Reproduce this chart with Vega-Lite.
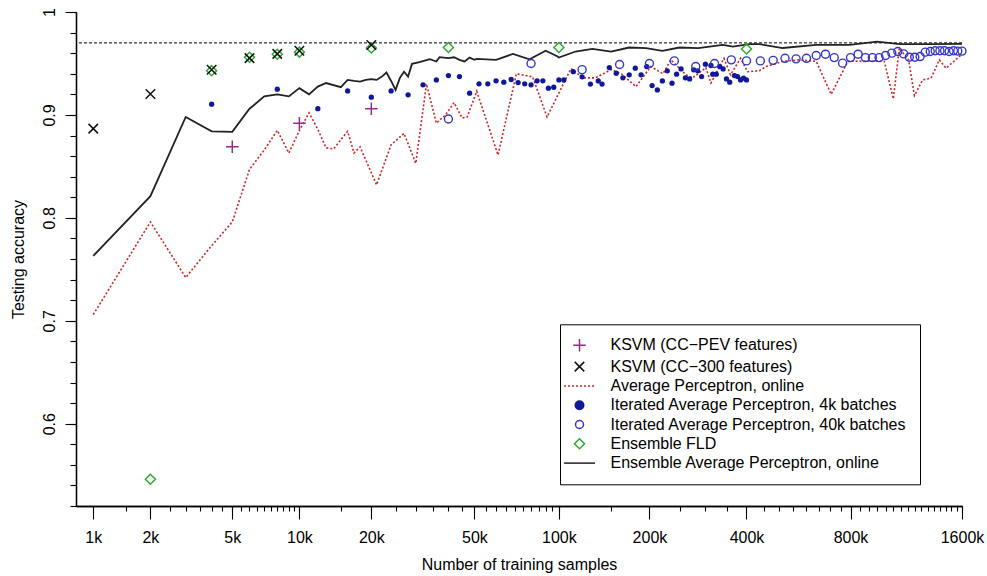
{
  "$schema": "https://vega.github.io/schema/vega-lite/v6.json",
  "width": 886,
  "height": 494,
  "autosize": {"type": "none"},
  "padding": {"left": 76, "top": 12, "right": 25, "bottom": 70},
  "background": "white",
  "config": {"view": {"stroke": null}, "font": "Liberation Sans", "axis": {"labelOverlap": false}},
  "resolve": {"axis": {"x": "independent", "y": "independent"}},
  "datasets": {
    "ksvmpev": [{"k": 5, "acc": 0.869}, {"k": 10, "acc": 0.892}, {"k": 20, "acc": 0.906}],
    "ksvm300": [{"k": 1, "acc": 0.8867}, {"k": 2, "acc": 0.9204}, {"k": 4, "acc": 0.9438}, {"k": 6, "acc": 0.9552}, {"k": 8, "acc": 0.9593}, {"k": 10, "acc": 0.9623}, {"k": 20, "acc": 0.968}],
    "fld": [{"k": 2, "acc": 0.546}, {"k": 4, "acc": 0.943}, {"k": 6, "acc": 0.956}, {"k": 8, "acc": 0.959}, {"k": 10, "acc": 0.961}, {"k": 20, "acc": 0.965}, {"k": 40, "acc": 0.9655}, {"k": 100, "acc": 0.9655}, {"k": 400, "acc": 0.964}],
    "ap": [
      {"k": 1, "acc": 0.706}, {"k": 2, "acc": 0.796}, {"k": 3, "acc": 0.742}, {"k": 4, "acc": 0.773}, {"k": 5, "acc": 0.796},
      {"k": 6, "acc": 0.847}, {"k": 7, "acc": 0.866}, {"k": 8, "acc": 0.885}, {"k": 9, "acc": 0.863}, {"k": 10, "acc": 0.885},
      {"k": 11, "acc": 0.902}, {"k": 12, "acc": 0.886}, {"k": 13, "acc": 0.868}, {"k": 14, "acc": 0.867}, {"k": 15, "acc": 0.876},
      {"k": 16, "acc": 0.884}, {"k": 17, "acc": 0.863}, {"k": 18, "acc": 0.869}, {"k": 21, "acc": 0.832}, {"k": 24, "acc": 0.871},
      {"k": 27, "acc": 0.882}, {"k": 30, "acc": 0.853}, {"k": 33, "acc": 0.93}, {"k": 36, "acc": 0.892}, {"k": 39, "acc": 0.9},
      {"k": 42, "acc": 0.912}, {"k": 45, "acc": 0.897}, {"k": 47, "acc": 0.898}, {"k": 51, "acc": 0.923}, {"k": 61, "acc": 0.861},
      {"k": 71, "acc": 0.94}, {"k": 81, "acc": 0.937}, {"k": 91, "acc": 0.898}, {"k": 110, "acc": 0.945}, {"k": 121, "acc": 0.936},
      {"k": 133, "acc": 0.936}, {"k": 150, "acc": 0.944}, {"k": 162, "acc": 0.94}, {"k": 181, "acc": 0.9275}, {"k": 202, "acc": 0.947},
      {"k": 221, "acc": 0.94}, {"k": 234, "acc": 0.9535}, {"k": 261, "acc": 0.939}, {"k": 274, "acc": 0.936}, {"k": 301, "acc": 0.946},
      {"k": 312, "acc": 0.931}, {"k": 342, "acc": 0.955}, {"k": 358, "acc": 0.939}, {"k": 384, "acc": 0.955}, {"k": 403, "acc": 0.942},
      {"k": 437, "acc": 0.943}, {"k": 458, "acc": 0.947}, {"k": 512, "acc": 0.952}, {"k": 572, "acc": 0.9535}, {"k": 640, "acc": 0.952},
      {"k": 706, "acc": 0.92}, {"k": 786, "acc": 0.952}, {"k": 901, "acc": 0.9525}, {"k": 992, "acc": 0.952}, {"k": 1050, "acc": 0.9156},
      {"k": 1090, "acc": 0.965}, {"k": 1155, "acc": 0.9535}, {"k": 1197, "acc": 0.9188}, {"k": 1260, "acc": 0.934}, {"k": 1326, "acc": 0.9357},
      {"k": 1395, "acc": 0.9535}, {"k": 1453, "acc": 0.9454}, {"k": 1600, "acc": 0.959}
    ],
    "eap": [
      {"k": 1, "acc": 0.763}, {"k": 2, "acc": 0.821}, {"k": 3, "acc": 0.898}, {"k": 4, "acc": 0.884}, {"k": 5, "acc": 0.8835},
      {"k": 6, "acc": 0.906}, {"k": 7, "acc": 0.918}, {"k": 8, "acc": 0.92}, {"k": 9, "acc": 0.918}, {"k": 10, "acc": 0.926},
      {"k": 11, "acc": 0.92}, {"k": 12, "acc": 0.9275}, {"k": 13, "acc": 0.931}, {"k": 15, "acc": 0.927}, {"k": 16, "acc": 0.934},
      {"k": 17, "acc": 0.933}, {"k": 18, "acc": 0.9324}, {"k": 19, "acc": 0.934}, {"k": 20, "acc": 0.9347}, {"k": 21, "acc": 0.934},
      {"k": 22, "acc": 0.937}, {"k": 23, "acc": 0.9412}, {"k": 24, "acc": 0.933}, {"k": 25, "acc": 0.9243}, {"k": 26, "acc": 0.936},
      {"k": 27, "acc": 0.942}, {"k": 28, "acc": 0.9373}, {"k": 29, "acc": 0.9496}, {"k": 31, "acc": 0.9512}, {"k": 34, "acc": 0.9542},
      {"k": 36, "acc": 0.9519}, {"k": 37, "acc": 0.9561}, {"k": 40, "acc": 0.9551}, {"k": 42, "acc": 0.956}, {"k": 44, "acc": 0.9535},
      {"k": 46, "acc": 0.952}, {"k": 48, "acc": 0.9557}, {"k": 50, "acc": 0.9535}, {"k": 51, "acc": 0.9545}, {"k": 60, "acc": 0.9535},
      {"k": 69, "acc": 0.9593}, {"k": 79, "acc": 0.954}, {"k": 90, "acc": 0.9623}, {"k": 99, "acc": 0.9567}, {"k": 100, "acc": 0.9557},
      {"k": 114, "acc": 0.9616}, {"k": 130, "acc": 0.9642}, {"k": 150, "acc": 0.9616}, {"k": 172, "acc": 0.9655}, {"k": 195, "acc": 0.9649},
      {"k": 220, "acc": 0.9623}, {"k": 249, "acc": 0.9655}, {"k": 285, "acc": 0.9649}, {"k": 339, "acc": 0.9681}, {"k": 364, "acc": 0.9664},
      {"k": 408, "acc": 0.9688}, {"k": 437, "acc": 0.9688}, {"k": 512, "acc": 0.965}, {"k": 640, "acc": 0.968}, {"k": 795, "acc": 0.968},
      {"k": 949, "acc": 0.9713}, {"k": 1090, "acc": 0.9688}, {"k": 1340, "acc": 0.9688}, {"k": 1600, "acc": 0.969}
    ],
    "iap4": [
      {"k": 4, "acc": 0.9104}, {"k": 8, "acc": 0.925}, {"k": 12, "acc": 0.9061}, {"k": 16, "acc": 0.9233}, {"k": 20, "acc": 0.9172},
      {"k": 24, "acc": 0.9233}, {"k": 28, "acc": 0.9195}, {"k": 32, "acc": 0.9292}, {"k": 36, "acc": 0.934}, {"k": 40, "acc": 0.9382},
      {"k": 44, "acc": 0.9373}, {"k": 48, "acc": 0.9211}, {"k": 52, "acc": 0.9302}, {"k": 56, "acc": 0.9302}, {"k": 60, "acc": 0.9331},
      {"k": 64, "acc": 0.9318}, {"k": 68, "acc": 0.9344}, {"k": 72, "acc": 0.9314}, {"k": 76, "acc": 0.9302}, {"k": 80, "acc": 0.9292},
      {"k": 84, "acc": 0.9331}, {"k": 88, "acc": 0.9331}, {"k": 92, "acc": 0.926}, {"k": 96, "acc": 0.9269}, {"k": 100, "acc": 0.934},
      {"k": 104, "acc": 0.934}, {"k": 112, "acc": 0.942}, {"k": 120, "acc": 0.937}, {"k": 128, "acc": 0.93}, {"k": 136, "acc": 0.933},
      {"k": 140, "acc": 0.93}, {"k": 148, "acc": 0.946}, {"k": 156, "acc": 0.9405}, {"k": 164, "acc": 0.936}, {"k": 172, "acc": 0.939},
      {"k": 180, "acc": 0.9454}, {"k": 188, "acc": 0.939}, {"k": 196, "acc": 0.947}, {"k": 204, "acc": 0.9285}, {"k": 212, "acc": 0.9243},
      {"k": 220, "acc": 0.933}, {"k": 228, "acc": 0.9428}, {"k": 236, "acc": 0.9308}, {"k": 244, "acc": 0.9396}, {"k": 252, "acc": 0.9447},
      {"k": 260, "acc": 0.936}, {"k": 268, "acc": 0.935}, {"k": 276, "acc": 0.9438}, {"k": 284, "acc": 0.9428}, {"k": 292, "acc": 0.9373},
      {"k": 300, "acc": 0.9493}, {"k": 312, "acc": 0.948}, {"k": 316, "acc": 0.9396}, {"k": 324, "acc": 0.9396}, {"k": 332, "acc": 0.947},
      {"k": 340, "acc": 0.9447}, {"k": 348, "acc": 0.935}, {"k": 356, "acc": 0.9318}, {"k": 368, "acc": 0.9382}, {"k": 376, "acc": 0.9373},
      {"k": 384, "acc": 0.934}, {"k": 392, "acc": 0.9357}, {"k": 400, "acc": 0.934}
    ],
    "iap40": [
      {"k": 40, "acc": 0.896}, {"k": 80, "acc": 0.95}, {"k": 120, "acc": 0.944}, {"k": 160, "acc": 0.949}, {"k": 200, "acc": 0.95},
      {"k": 240, "acc": 0.9525}, {"k": 280, "acc": 0.947}, {"k": 320, "acc": 0.95}, {"k": 360, "acc": 0.9535}, {"k": 400, "acc": 0.9525},
      {"k": 440, "acc": 0.9525}, {"k": 480, "acc": 0.953}, {"k": 520, "acc": 0.955}, {"k": 560, "acc": 0.9545}, {"k": 600, "acc": 0.955},
      {"k": 640, "acc": 0.9577}, {"k": 680, "acc": 0.959}, {"k": 720, "acc": 0.9557}, {"k": 760, "acc": 0.9503}, {"k": 800, "acc": 0.9557},
      {"k": 840, "acc": 0.959}, {"k": 880, "acc": 0.9557}, {"k": 920, "acc": 0.9557}, {"k": 960, "acc": 0.9557}, {"k": 1000, "acc": 0.9577},
      {"k": 1040, "acc": 0.96}, {"k": 1080, "acc": 0.9616}, {"k": 1120, "acc": 0.9593}, {"k": 1160, "acc": 0.9561}, {"k": 1200, "acc": 0.9561},
      {"k": 1240, "acc": 0.9567}, {"k": 1280, "acc": 0.961}, {"k": 1320, "acc": 0.9616}, {"k": 1360, "acc": 0.9623}, {"k": 1400, "acc": 0.9623},
      {"k": 1440, "acc": 0.9623}, {"k": 1480, "acc": 0.9616}, {"k": 1520, "acc": 0.9623}, {"k": 1560, "acc": 0.962}, {"k": 1600, "acc": 0.962}
    ]
  },
  "layer": [
    {
      "data": {"values": [{}]},
      "mark": {"type": "rule", "color": "black", "strokeDash": [3, 2], "strokeWidth": 1},
      "encoding": {"y": {"datum": 0.97, "type": "quantitative", "axis": null}}
    },
    {
      "data": {"name": "ap"},
      "mark": {"type": "line", "color": "#C8282A", "strokeDash": [2, 2], "strokeWidth": 1.6},
      "encoding": {
        "x": {
          "field": "k", "type": "quantitative",
          "scale": {"type": "pow", "exponent": 0.1, "domain": [0.803, 1600], "nice": false, "zero": false},
          "axis": {
            "orient": "bottom",
            "title": "Number of training samples",
            "values": [1, 2, 5, 10, 20, 50, 100, 200, 400, 800, 1600],
            "labelExpr": "datum.value + 'k'",
            "tickSize": 13,
            "grid": false, "labelOverlap": false, "labelFlush": false,
            "labelFont": "Liberation Sans", "labelFontSize": 16, "labelColor": "black", "labelPadding": 10,
            "tickColor": "black", "tickWidth": 1.1, "domainColor": "black", "domainWidth": 1.3,
            "titleFont": "Liberation Sans", "titleFontSize": 16, "titleFontWeight": "normal", "titleColor": "black", "titlePadding": 11
          }
        },
        "y": {
          "field": "acc", "type": "quantitative",
          "scale": {"domain": [0.52, 1.0], "nice": false, "zero": false},
          "axis": {
            "orient": "left",
            "title": "Testing accuracy",
            "values": [0.6, 0.7, 0.8, 0.9, 1],
            "labelExpr": "format(datum.value, '.1~f')",
            "tickSize": 11,
            "labelAngle": -90, "labelAlign": "center", "labelBaseline": "bottom",
            "grid": false, "labelOverlap": false, "labelFlush": false,
            "labelFont": "Liberation Sans", "labelFontSize": 16, "labelColor": "black", "labelPadding": 8,
            "tickColor": "black", "tickWidth": 1.1, "domainColor": "black", "domainWidth": 1.3,
            "titleFont": "Liberation Sans", "titleFontSize": 16, "titleFontWeight": "normal", "titleColor": "black", "titlePadding": 15
          }
        }
      }
    },
    {
      "data": {"name": "eap"},
      "mark": {"type": "line", "color": "#222222", "strokeWidth": 1.8},
      "encoding": {
        "x": {
          "field": "k", "type": "quantitative",
          "axis": {
            "orient": "bottom", "title": null, "labels": false,
            "values": [1,1.5,2,2.5,3,3.5,4,4.5,5,5.5,6,6.5,7,7.5,8,8.5,9,9.5,10,15,20,25,30,35,40,45,50,55,60,65,70,75,80,85,90,95,100,150,200,250,300,350,400,450,500,550,600,650,700,750,800,850,900,950,1000,1050,1100,1150,1200,1250,1300,1350,1400,1450,1500,1550,1600],
            "tickSize": 5, "grid": false,
            "tickColor": "black", "tickWidth": 1.1, "domainColor": "black", "domainWidth": 1.3
          }
        },
        "y": {
          "field": "acc", "type": "quantitative",
          "axis": {
            "orient": "left", "title": null, "labels": false,
            "values": [0.52,0.54,0.56,0.58,0.6,0.62,0.64,0.66,0.68,0.7,0.72,0.74,0.76,0.78,0.8,0.82,0.84,0.86,0.88,0.9,0.92,0.94,0.96,0.98,1],
            "tickSize": 6, "grid": false,
            "tickColor": "black", "tickWidth": 1.1, "domainColor": "black", "domainWidth": 1.3
          }
        }
      }
    },
    {
      "data": {"name": "iap4"},
      "mark": {"type": "point", "filled": true, "shape": "circle", "size": 28, "color": "#10189A", "opacity": 1},
      "encoding": {
        "x": {"field": "k", "type": "quantitative", "axis": null},
        "y": {"field": "acc", "type": "quantitative", "axis": null}
      }
    },
    {
      "data": {"name": "iap40"},
      "mark": {"type": "point", "filled": false, "size": 100, "strokeWidth": 1.4, "opacity": 1},
      "encoding": {
        "x": {"field": "k", "type": "quantitative", "axis": null},
        "y": {"field": "acc", "type": "quantitative", "axis": null},
        "color": {
          "datum": "Iterated Average Perceptron, 40k batches", "type": "nominal",
          "scale": {
            "domain": ["KSVM (CC−PEV features)", "KSVM (CC−300 features)", "Average Perceptron, online", "Iterated Average Perceptron, 4k batches", "Iterated Average Perceptron, 40k batches", "Ensemble FLD", "Ensemble Average Perceptron, online"],
            "range": ["#912C91", "#111111", "#C8282A", "#10189A", "#3535C8", "#2EAA2E", "#222222"]
          },
          "legend": {
            "title": null, "orient": "none", "legendX": 484, "legendY": 312.3, "direction": "vertical",
            "padding": 13, "strokeColor": "black", "fillColor": "white",
            "symbolSize": 100, "symbolStrokeWidth": 1.5, "symbolOffset": -1.5, "labelOffset": 23,
            "rowPadding": 3.3, "labelFont": "Liberation Sans", "labelFontSize": 16, "labelColor": "black", "labelLimit": 500,
            "encode": {"symbols": {"fill": {"condition": {"test": "datum.value === 'Iterated Average Perceptron, 4k batches'", "value": "#10189A"}, "value": "transparent"}}}
          }
        },
        "shape": {
          "datum": "Iterated Average Perceptron, 40k batches", "type": "nominal",
          "scale": {
            "domain": ["KSVM (CC−PEV features)", "KSVM (CC−300 features)", "Average Perceptron, online", "Iterated Average Perceptron, 4k batches", "Iterated Average Perceptron, 40k batches", "Ensemble FLD", "Ensemble Average Perceptron, online"],
            "range": [
              "M-1.25,0H1.25M0,-1.25V1.25",
              "M-0.95,-0.95L0.95,0.95M-0.95,0.95L0.95,-0.95",
              "M-3.1,0h0.4m0.4,0h0.4m0.4,0h0.4m0.4,0h0.4m0.4,0h0.4m0.4,0h0.4m0.4,0h0.4m0.4,0h0.4",
              "M0.85,0A0.85,0.85,0,1,1,-0.85,0A0.85,0.85,0,1,1,0.85,0ZM0.6,0A0.6,0.6,0,1,1,-0.6,0A0.6,0.6,0,1,1,0.6,0ZM0.35,0A0.35,0.35,0,1,1,-0.35,0A0.35,0.35,0,1,1,0.35,0ZM0.12,0A0.12,0.12,0,1,1,-0.12,0A0.12,0.12,0,1,1,0.12,0Z",
              "M0.8,0A0.8,0.8,0,1,1,-0.8,0A0.8,0.8,0,1,1,0.8,0Z",
              "M0,-1L1,0L0,1L-1,0Z",
              "M-3.1,0H3.1"
            ]
          },
          "legend": {
            "title": null, "orient": "none", "legendX": 484, "legendY": 312.3, "direction": "vertical",
            "padding": 13, "strokeColor": "black", "fillColor": "white",
            "symbolSize": 100, "symbolStrokeWidth": 1.5, "symbolOffset": -1.5, "labelOffset": 23,
            "rowPadding": 3.3, "labelFont": "Liberation Sans", "labelFontSize": 16, "labelColor": "black", "labelLimit": 500,
            "encode": {"symbols": {"fill": {"condition": {"test": "datum.value === 'Iterated Average Perceptron, 4k batches'", "value": "#10189A"}, "value": "transparent"}}}
          }
        }
      }
    },
    {
      "data": {"name": "fld"},
      "mark": {"type": "point", "filled": false, "size": 100, "strokeWidth": 1.5, "opacity": 1},
      "encoding": {
        "x": {"field": "k", "type": "quantitative", "axis": null},
        "y": {"field": "acc", "type": "quantitative", "axis": null},
        "color": {"datum": "Ensemble FLD", "type": "nominal"},
        "shape": {"datum": "Ensemble FLD", "type": "nominal"}
      }
    },
    {
      "data": {"name": "ksvm300"},
      "mark": {"type": "point", "filled": false, "size": 100, "strokeWidth": 1.5, "opacity": 1},
      "encoding": {
        "x": {"field": "k", "type": "quantitative", "axis": null},
        "y": {"field": "acc", "type": "quantitative", "axis": null},
        "color": {"datum": "KSVM (CC−300 features)", "type": "nominal"},
        "shape": {"datum": "KSVM (CC−300 features)", "type": "nominal"}
      }
    },
    {
      "data": {"name": "ksvmpev"},
      "mark": {"type": "point", "filled": false, "size": 100, "strokeWidth": 1.5, "opacity": 1},
      "encoding": {
        "x": {"field": "k", "type": "quantitative", "axis": null},
        "y": {"field": "acc", "type": "quantitative", "axis": null},
        "color": {"datum": "KSVM (CC−PEV features)", "type": "nominal"},
        "shape": {"datum": "KSVM (CC−PEV features)", "type": "nominal"}
      }
    }
  ]
}
